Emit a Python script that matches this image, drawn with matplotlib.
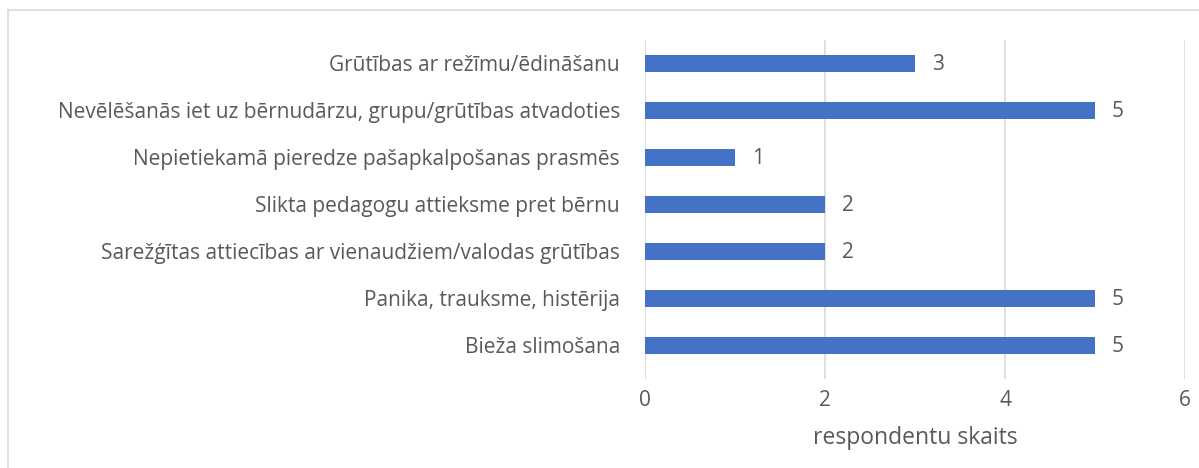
import matplotlib
matplotlib.use("Agg")
import matplotlib.pyplot as plt
from matplotlib.lines import Line2D

categories = [
    "Grūtības ar režīmu/ēdināšanu",
    "Nevēlēšanās iet uz bērnudārzu, grupu/grūtības atvadoties",
    "Nepietiekamā pieredze pašapkalpošanas prasmēs",
    "Slikta pedagogu attieksme pret bērnu",
    "Sarežģītas attiecības ar vienaudžiem/valodas grūtības",
    "Panika, trauksme, histērija",
    "Bieža slimošana",
]
values = [3, 5, 1, 2, 2, 5, 5]
xticks = [0, 2, 4, 6]
xlabel = "respondentu skaits"

plt.rcParams['font.family'] = ['Open Sans', 'DejaVu Sans']
text_color = "#595959"
bar_color = "#4472C4"
grid_color = "#d9d9d9"

fig = plt.figure(figsize=(11.99, 4.68), dpi=100)
ax = fig.add_axes([645/1199, 1-379/468, 540/1199, 339/468])

pos = list(range(len(categories)))
ax.barh(pos, values, height=0.36, color=bar_color, zorder=3)
ax.set_ylim(6.72, -0.49)
ax.set_xlim(0, 6)
ax.set_yticks(pos)
ax.set_yticklabels(categories, fontsize=15, color=text_color)
ax.set_xticks(xticks)
ax.set_xticklabels([str(t) for t in xticks], fontsize=15, color=text_color)
ax.tick_params(axis='both', length=0)
ax.tick_params(axis='y', pad=18)
ax.tick_params(axis='x', pad=8)
ax.set_xlabel(xlabel, fontsize=16.5, color=text_color, labelpad=11)
for s in ax.spines.values():
    s.set_visible(False)
ax.grid(axis='x', color=grid_color, linewidth=1.2, zorder=0)
ax.grid(axis='y', visible=False)

for p, v in zip(pos, values):
    ax.annotate(str(v), xy=(v, p), xytext=(12, -1), textcoords='offset points',
                va='center', ha='left', fontsize=15, color=text_color)

fig.add_artist(Line2D([8/1199, 8/1199], [0, 1-10/468], transform=fig.transFigure,
                      color=grid_color, linewidth=1.2))
fig.add_artist(Line2D([8/1199, 1], [1-10/468, 1-10/468], transform=fig.transFigure,
                      color=grid_color, linewidth=1.2))

fig.savefig("out.png", dpi=100, facecolor="white")
